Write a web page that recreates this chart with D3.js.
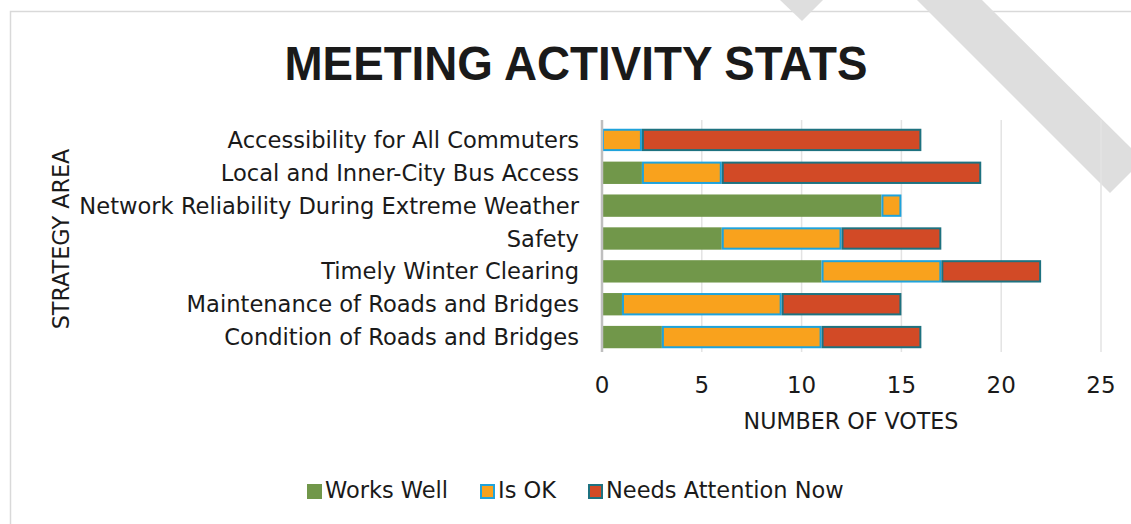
<!DOCTYPE html>
<html><head><meta charset="utf-8">
<script src="https://cdn.jsdelivr.net/npm/d3@7"></script>
<style>
html,body{margin:0;padding:0;background:#fff;}
svg{display:block;}
text{font-family:"DejaVu Sans",sans-serif;fill:#1a1a1a;}
</style></head>
<body><svg id="c" width="1131" height="524"></svg>
<script>
const categories = [
  "Accessibility for All Commuters",
  "Local and Inner-City Bus Access",
  "Network Reliability During Extreme Weather",
  "Safety",
  "Timely Winter Clearing",
  "Maintenance of Roads and Bridges",
  "Condition of Roads and Bridges"
];
const seriesNames = ["Works Well", "Is OK", "Needs Attention Now"];
const worksWell = [0, 2, 14, 6, 11, 1, 3];
const isOK = [2, 4, 1, 6, 6, 8, 8];
const needsAttention = [14, 13, 0, 5, 5, 6, 5];
const xTicks = [0, 5, 10, 15, 20, 25];
const titleText = "MEETING ACTIVITY STATS";
const xTitle = "NUMBER OF VOTES";
const yTitle = "STRATEGY AREA";

const fills = ["#71974a", "#f9a21d", "#d24a26"];
const strokes = [null, "#1fa3dc", "#1e7280"];

const svg = d3.select("#c");
svg.append("rect").attr("width",1131).attr("height",524).attr("fill","#fff");
// chart border
svg.append("rect").attr("x",10.5).attr("y",11.5).attr("width",1300).attr("height",700)
  .attr("fill","#fff").attr("stroke","#d9d9d9").attr("stroke-width",1.5);

// watermark stripes
svg.append("polygon").attr("points","917,0 1110,193 1143,160 982,0").attr("fill","#dedede");
svg.append("polygon").attr("points","780,0 802,21 823,0").attr("fill","#dedede");

const x = d3.scaleLinear().domain([0,25]).range([602,1101]);
const y = d3.scaleBand().domain(categories).range([123.5,353.5]).paddingInner(0.32).paddingOuter(0.16);

// gridlines
svg.append("g").selectAll("line").data(xTicks.slice(1)).join("line")
  .attr("x1",d=>x(d)).attr("x2",d=>x(d)).attr("y1",120).attr("y2",352)
  .attr("stroke","#e3e3e3").attr("stroke-width",1.5);

// stacked data
const rows = categories.map((c,i)=>({cat:c, "Works Well":worksWell[i], "Is OK":isOK[i], "Needs Attention Now":needsAttention[i]}));
const stack = d3.stack().keys(seriesNames)(rows);

stack.forEach((layer,si)=>{
  svg.append("g").selectAll("rect").data(layer.filter(d=>d[1]-d[0]>0)).join("rect")
    .attr("x",d=>x(d[0]) + (strokes[si]?1:0))
    .attr("y",d=>y(d.data.cat) + (strokes[si]?1:0))
    .attr("width",d=>x(d[1])-x(d[0]) - (strokes[si]?2:0))
    .attr("height",y.bandwidth() - (strokes[si]?2:0))
    .attr("fill",fills[si])
    .attr("stroke",strokes[si]||"none")
    .attr("stroke-width",strokes[si]?2:0);
});

// axis line
svg.append("line").attr("x1",x(0)).attr("x2",x(0)).attr("y1",120).attr("y2",352)
  .attr("stroke","#bfbfbf").attr("stroke-width",2.5);

// x tick labels
svg.append("g").selectAll("text").data(xTicks).join("text")
  .attr("x",d=>x(d)).attr("y",393).attr("text-anchor","middle")
  .attr("font-size",23).text(d=>d);

// category labels
svg.append("g").selectAll("text").data(categories).join("text")
  .attr("x",579).attr("y",d=>y(d)+y.bandwidth()/2).attr("dy","0.36em")
  .attr("text-anchor","end").attr("font-size",22.6).text(d=>d);

// title
svg.append("text").attr("x",576).attr("y",80).attr("text-anchor","middle")
  .style("font-family","'Liberation Sans',Arial,sans-serif")
  .attr("font-size",49).attr("font-weight","bold").attr("fill","#000")
  .attr("textLength",583).attr("lengthAdjust","spacingAndGlyphs").text(titleText);

// axis titles
svg.append("text").attr("x",851).attr("y",429).attr("text-anchor","middle")
  .attr("font-size",22.2).text(xTitle);
svg.append("text").attr("transform","translate(69,239) rotate(-90)").attr("text-anchor","middle")
  .attr("font-size",22.3).text(yTitle);

// legend
const legendX = [307, 480, 588];
seriesNames.forEach((s,i)=>{
  const g = svg.append("g");
  const inset = strokes[i]?1:0;
  g.append("rect").attr("x",legendX[i]+inset).attr("y",484+inset)
    .attr("width",15-2*inset).attr("height",15-2*inset)
    .attr("fill",fills[i]).attr("stroke",strokes[i]||"none").attr("stroke-width",strokes[i]?2:0);
  g.append("text").attr("x",legendX[i]+18).attr("y",498).attr("font-size",22.5).text(s);
});
</script></body></html>
